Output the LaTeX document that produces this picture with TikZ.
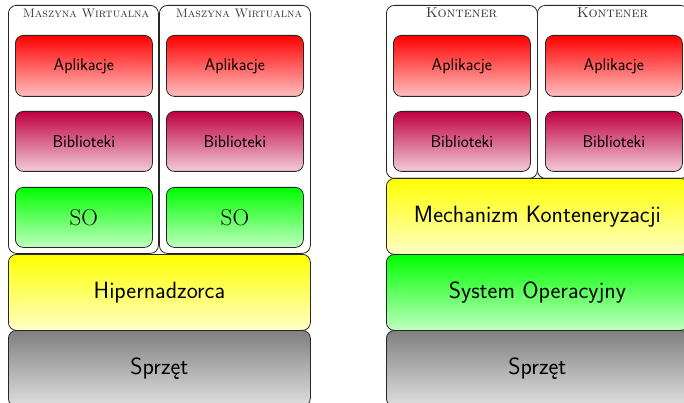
\documentclass[tikz,border=0pt]{standalone}
\usepackage{fontspec}
\begin{document}
\begin{tikzpicture}[x=1pt,y=-1pt,
  layer/.style={draw=black!85,line width=0.8pt,rounded corners=8pt,rectangle,inner sep=0pt,anchor=north west},
  frame/.style={layer,fill=white},
  small/.style={font=\fontsize{17}{20}\sffamily},
  big/.style={font=\fontsize{23.5}{27}\sffamily},
  title/.style={font=\fontsize{12.3}{14}\scshape,anchor=base,inner sep=0pt,text=black!80},
  ktitle/.style={title,font=\fontsize{14.3}{16}\scshape},
  app/.style={layer,small,top color=red,bottom color=red!25,minimum width=137pt,minimum height=61pt},
  bib/.style={layer,small,top color=purple,bottom color=purple!20,minimum width=137pt,minimum height=60pt},
  osb/.style={layer,font=\fontsize{23}{26}\rmfamily,top color=green,bottom color=green!25,minimum width=137pt,minimum height=60pt},
]
\clip (0,0) rectangle (684,403);
% ---------- left: virtual machines ----------
\node[frame,minimum width=150pt,minimum height=248pt] (vmA) at (8,5) {};
\node[frame,minimum width=151pt,minimum height=248pt] (vmB) at (159,5) {};
\node[title] (tA) at (86,18) {Maszyna Wirtualna};
\node[title] (tB) at (239,18) {Maszyna Wirtualna};
\node[app] (appA) at (15,35) {Aplikacje};
\node[bib] (bibA) at (15,111) {Biblioteki};
\node[osb] (soA) at (15,187) {SO};
\node[app] (appB) at (166,35) {Aplikacje};
\node[bib] (bibB) at (166,111) {Biblioteki};
\node[osb] (soB) at (166,187) {SO};
\node[layer,big,top color=yellow,bottom color=yellow!22,minimum width=302pt,minimum height=76pt] (hyp) at (8,254) {Hipernadzorca};
\node[layer,big,top color=gray,bottom color=gray!25,minimum width=302pt,minimum height=76pt] (hwL) at (8,330) {Sprzęt};
% ---------- right: containers ----------
\node[frame,minimum width=151pt,minimum height=173pt] (kA) at (386,5) {};
\node[frame,minimum width=151pt,minimum height=173pt] (kB) at (537,5) {};
\node[ktitle] (tC) at (461.5,18) {Kontener};
\node[ktitle] (tD) at (612.5,18) {Kontener};
\node[app] (appC) at (393,35) {Aplikacje};
\node[bib] (bibC) at (393,111) {Biblioteki};
\node[app] (appD) at (545,35) {Aplikacje};
\node[bib] (bibD) at (545,111) {Biblioteki};
\node[layer,big,top color=yellow,bottom color=yellow!22,minimum width=302pt,minimum height=76pt] (mech) at (386,178) {Mechanizm Konteneryzacji};
\node[layer,big,top color=green,bottom color=green!25,minimum width=302pt,minimum height=76pt] (os) at (386,254) {System Operacyjny};
\node[layer,big,top color=gray,bottom color=gray!25,minimum width=302pt,minimum height=76pt] (hwR) at (386,330) {Sprzęt};
\end{tikzpicture}
\end{document}
